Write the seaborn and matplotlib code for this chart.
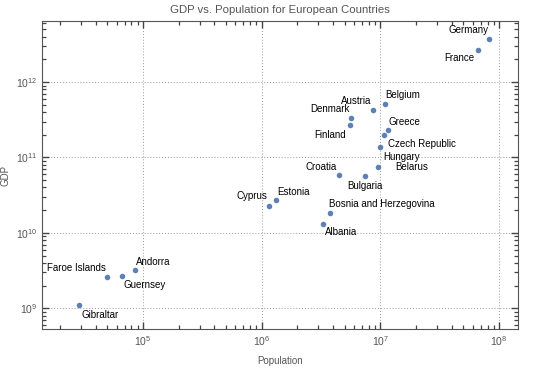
import matplotlib
matplotlib.use('Agg')
import matplotlib.pyplot as plt
import matplotlib.ticker as mticker
import pandas as pd
import seaborn as sns

gray = '#555555'
sns.set_theme(style='ticks')
plt.rcParams['font.family'] = ['Liberation Sans', 'DejaVu Sans']

# Data.
countries = ['Germany', 'France', 'Belgium', 'Austria', 'Denmark', 'Finland',
             'Greece', 'Czech Republic', 'Hungary', 'Belarus', 'Croatia',
             'Bulgaria', 'Cyprus', 'Estonia', 'Bosnia and Herzegovina',
             'Albania', 'Andorra', 'Faroe Islands', 'Guernsey', 'Gibraltar']
population = [8.3e7, 6.6e7, 1.09e7, 8.6e6, 5.7e6, 5.5e6,
              1.16e7, 1.08e7, 1.0e7, 9.5e6, 4.45e6,
              7.4e6, 1.15e6, 1.33e6, 3.74e6,
              3.27e6, 8.57e4, 5.0e4, 6.65e4, 2.9e4]
gdp = [3.7e12, 2.7e12, 5.2e11, 4.2e11, 3.3e11, 2.7e11,
       2.3e11, 2.0e11, 1.36e11, 7.5e10, 5.8e10,
       5.6e10, 2.3e10, 2.7e10, 1.86e10,
       1.33e10, 3.2e9, 2.6e9, 2.7e9, 1.1e9]

# label placement: (dx, dy) in points, horizontal alignment
label_pos = {
    'Germany': (-1, 6.5, 'right'), 'France': (-2, -6, 'right'),
    'Belgium': (0.5, 6, 'left'), 'Austria': (-1.2, 7, 'right'),
    'Denmark': (-1.2, 6.7, 'right'), 'Finland': (-2.4, -7, 'right'),
    'Greece': (0.7, 6.2, 'left'), 'Czech Republic': (2.4, -6.3, 'left'),
    'Hungary': (2.2, -7, 'left'), 'Belarus': (12.5, 0, 'left'),
    'Croatia': (-1, 6, 'right'), 'Bulgaria': (0, -7, 'center'),
    'Cyprus': (-1, 6.7, 'right'), 'Estonia': (0.7, 6, 'left'),
    'Bosnia and Herzegovina': (-0.5, 6, 'left'), 'Albania': (1.7, -6, 'left'),
    'Andorra': (0.5, 6, 'left'), 'Faroe Islands': (-1.2, 6.2, 'right'),
    'Guernsey': (1.4, -6.5, 'left'), 'Gibraltar': (2, -6.8, 'left'),
}

df = pd.DataFrame({'country': countries, 'Population': population, 'GDP': gdp})

fig = plt.figure(figsize=(5.5, 3.69), dpi=100)
ax = fig.add_axes([0.0764, 0.1076, 0.8654, 0.8354])
ax.set_axisbelow(False)
sns.scatterplot(data=df, x='Population', y='GDP', ax=ax, color='#5E81B5',
                s=16, linewidth=0, zorder=3)
ax.set_xscale('log')
ax.set_yscale('log')
ax.set_xlim(1.41e4, 1.445e8)
ax.set_ylim(5.25e8, 6.46e12)

for _, row in df.iterrows():
    dx, dy, ha = label_pos[row['country']]
    ax.annotate(row['country'], (row['Population'], row['GDP']),
                xytext=(dx, dy), textcoords='offset points', ha=ha,
                va='center', fontsize=7, color='black')

x_major = [10.0 ** e for e in range(4, 9)]
y_major = [10.0 ** e for e in range(8, 13)]
x_minor = [m * 10.0 ** e for e in range(4, 9) for m in range(2, 10)]
y_minor = [m * 10.0 ** e for e in range(8, 13) for m in range(2, 10)]
ax.xaxis.set_major_locator(mticker.FixedLocator(x_major))
ax.yaxis.set_major_locator(mticker.FixedLocator(y_major))
ax.xaxis.set_minor_locator(mticker.FixedLocator(x_minor))
ax.yaxis.set_minor_locator(mticker.FixedLocator(y_minor))
ax.xaxis.set_major_formatter(mticker.LogFormatterSciNotation())
ax.yaxis.set_major_formatter(mticker.LogFormatterSciNotation())
ax.xaxis.set_minor_formatter(mticker.NullFormatter())
ax.yaxis.set_minor_formatter(mticker.NullFormatter())

ax.grid(True, which='major', linestyle=(0, (1, 2)), color='#999999', linewidth=0.7)
ax.tick_params(which='both', direction='in', top=True, right=True,
               bottom=True, left=True, color='#444444', labelcolor=gray,
               labelsize=7.5)
ax.tick_params(which='major', length=5, width=1.0)
ax.tick_params(which='minor', length=3, width=0.9)
for s in ax.spines.values():
    s.set_color(gray)
    s.set_linewidth(0.8)

ax.set_xlabel('Population', fontsize=7, color=gray, labelpad=6)
ax.set_ylabel('GDP', fontsize=7, color=gray, labelpad=4)
ax.set_title('GDP vs. Population for European Countries', fontsize=8.2,
             color=gray, pad=6)

fig.savefig('out.png', dpi=100)
